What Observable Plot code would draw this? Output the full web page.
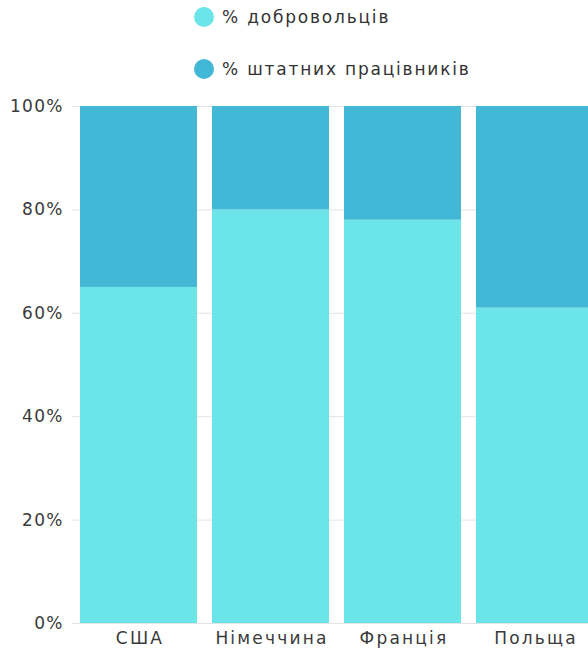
<!DOCTYPE html>
<html>
<head>
<meta charset="utf-8">
<script src="https://cdn.jsdelivr.net/npm/d3@7"></script>
<script src="https://cdn.jsdelivr.net/npm/@observablehq/plot@0.6"></script>
<style>
  html, body { margin: 0; padding: 0; background: #fff; overflow: hidden; width: 588px; height: 655px; }
  #legend { position: relative; height: 90px; font-family: "DejaVu Sans", sans-serif; font-size: 17px; color: #333; }
  .item { position: absolute; left: 194px; display: flex; align-items: center; white-space: nowrap; letter-spacing: 1.8px; }
  .dot { width: 20px; height: 20px; border-radius: 50%; margin-right: 8px; }
  g[aria-label="x-axis tick label"] text { letter-spacing: 2.2px; }
  g[aria-label="y-axis tick label"] text { letter-spacing: 1.2px; }
</style>
</head>
<body>
<div id="legend"></div>
<div id="chart"></div>
<script>
const countries = ["США", "Німеччина", "Франція", "Польща"];
const seriesNames = ["% добровольців", "% штатних працівників"];
const volunteers = [65, 80, 78, 61];
const staff = [35, 20, 22, 39];
const colors = ["#6be5e8", "#43b7d6"];
const yTicks = [0, 20, 40, 60, 80, 100];

const data = [];
countries.forEach((c, i) => {
  data.push({country: c, series: seriesNames[0], value: volunteers[i]});
  data.push({country: c, series: seriesNames[1], value: staff[i]});
});

const legend = document.getElementById("legend");
seriesNames.forEach((s, i) => {
  const item = document.createElement("div");
  item.className = "item";
  item.style.top = (i === 0 ? 7 : 59) + "px";
  const dot = document.createElement("span");
  dot.className = "dot";
  dot.style.background = colors[i];
  const t = document.createElement("span");
  t.textContent = s;
  item.appendChild(dot);
  item.appendChild(t);
  legend.appendChild(item);
});

const chart = Plot.plot({
  width: 588,
  height: 565,
  marginLeft: 72,
  marginRight: -14,
  marginTop: 16,
  marginBottom: 32,
  style: {fontFamily: "DejaVu Sans, sans-serif", fontSize: "17px", color: "#3a3a3a", overflow: "hidden"},
  x: {domain: countries, label: null, paddingInner: 0.11, paddingOuter: 0.055},
  y: {domain: [0, 100], label: null},
  color: {domain: seriesNames, range: colors},
  marks: [
    Plot.gridY(yTicks, {stroke: "#e4e4e4", strokeOpacity: 1}),
    Plot.barY(data, Plot.stackY({x: "country", y: "value", fill: "series", z: "series", order: seriesNames})),
    Plot.axisY(yTicks, {tickSize: 0, tickPadding: 9, tickFormat: d => d + "%", fill: "#3a3a3a"}),
    Plot.axisX({tickSize: 0, tickPadding: 8, dx: 1, fill: "#3a3a3a"})
  ]
});
document.getElementById("chart").appendChild(chart);
</script>
</body>
</html>
